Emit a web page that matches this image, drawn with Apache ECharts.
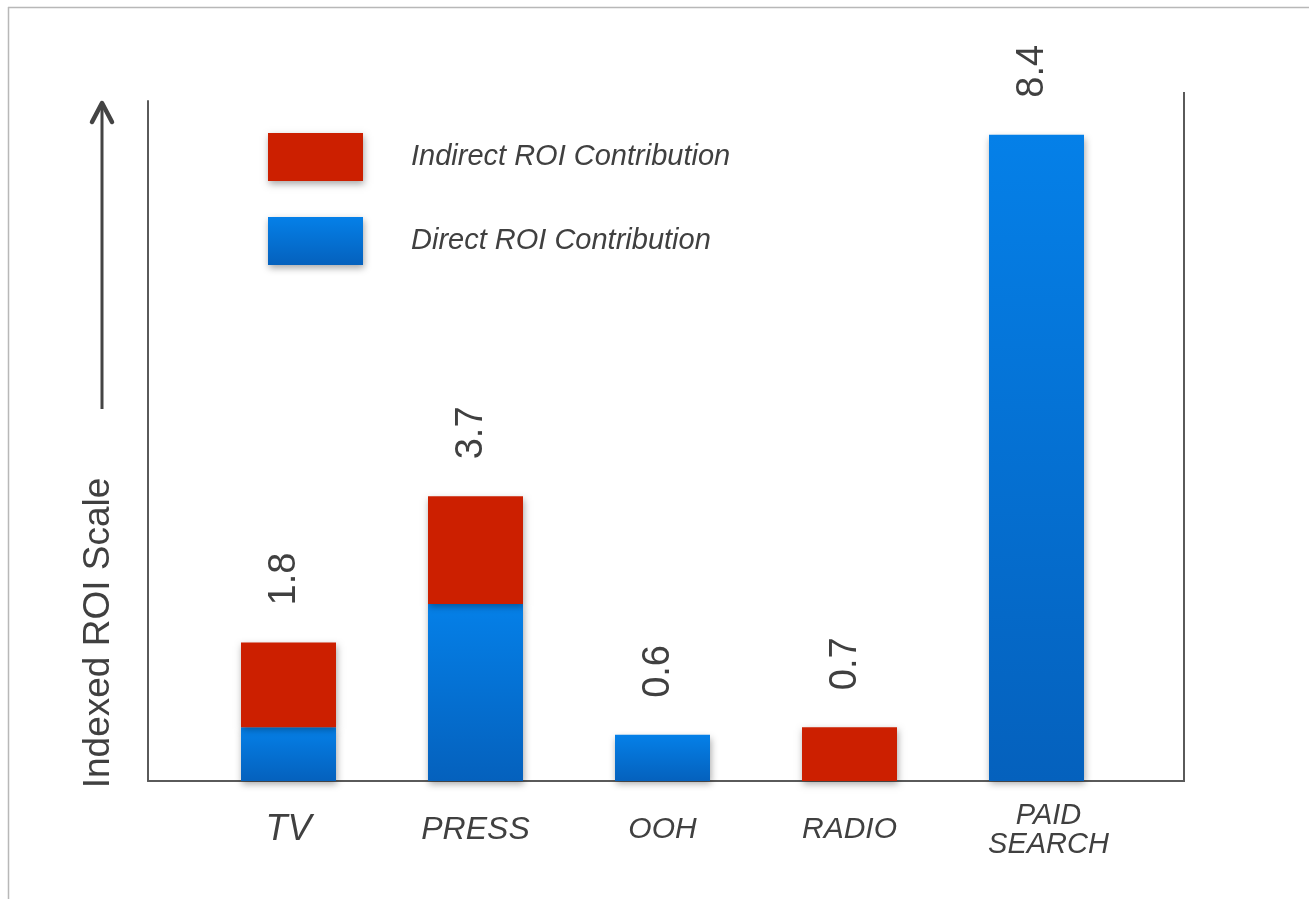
<!DOCTYPE html>
<html>
<head>
<meta charset="utf-8">
<title>Indexed ROI by Channel</title>
<script src="https://cdn.jsdelivr.net/npm/echarts@6/dist/echarts.min.js"></script>
<style>
  html, body { margin: 0; padding: 0; background: #ffffff; }
  #chart { width: 1309px; height: 899px; }
</style>
</head>
<body>
<div id="chart"></div>
<script>
// Channels along the horizontal axis
const channels = ['TV', 'PRESS', 'OOH', 'RADIO', 'PAID\nSEARCH'];
// Direct and indirect ROI contribution per channel (indexed)
const directROI = [0.7, 2.3, 0.6, 0, 8.4];
const indirectROI = [1.1, 1.4, 0, 0.7, 0];
// Total indexed ROI printed above each bar
const totalROI = [1.8, 3.7, 0.6, 0.7, 8.4];
// Series names shown in the legend
const seriesNames = ['Indirect ROI Contribution', 'Direct ROI Contribution'];

const FONT = '"Liberation Sans", Arial, Helvetica, sans-serif';
const TEXT = '#404040';
const AXIS = '#5a5a5a';
const Y_MAX = 8.85;

// Rich-text styles for the category axis labels (one per channel)
const labelRich = {
  tv: { fontSize: 36 },
  press: { fontSize: 32 },
  ooh: { fontSize: 30 },
  radio: { fontSize: 30 },
  ps: { fontSize: 29, lineHeight: 29, padding: [0, 0, 0, 24] }
};

// Builds the rich-text string for a channel name
function channelLabel(name) {
  if (name.indexOf('\n') >= 0) {
    return name.split('\n').map(line => '{ps|' + line + '}').join('\n');
  }
  return '{' + name.toLowerCase() + '|' + name + '}';
}

const blueFill = new echarts.graphic.LinearGradient(0, 0, 0, 1, [
  { offset: 0, color: '#0580e8' },
  { offset: 1, color: '#0561bd' }
]);
const redFill = '#cc1f00';

const barShadow = {
  shadowBlur: 7,
  shadowColor: 'rgba(0,0,0,0.35)',
  shadowOffsetX: 1,
  shadowOffsetY: 3
};

const toBar = v => (v === 0 ? '-' : v);

const chart = echarts.init(document.getElementById('chart'), null, { renderer: 'canvas' });

chart.setOption({
  backgroundColor: '#ffffff',
  animation: false,
  textStyle: { fontFamily: FONT },
  legend: {
    data: seriesNames,
    orient: 'vertical',
    left: 263,
    top: 128,
    itemWidth: 95,
    itemHeight: 48,
    itemGap: 36,
    icon: 'rect',
    selectedMode: false,
    itemStyle: {
      shadowBlur: 7,
      shadowColor: 'rgba(0,0,0,0.35)',
      shadowOffsetX: 1,
      shadowOffsetY: 3
    },
    textStyle: {
      fontFamily: FONT,
      fontSize: 29,
      fontStyle: 'italic',
      color: TEXT,
      padding: [0, 0, 0, 43]
    }
  },
  grid: [
    // plotting area for the bars
    { left: 195, right: 179, top: 100, bottom: 118, containLabel: false, outerBoundsMode: 'none' },
    // frame with the left and bottom axis lines
    { left: 148, right: 125, top: 101, bottom: 118, containLabel: false, outerBoundsMode: 'none' }
  ],
  xAxis: [
    {
      type: 'category',
      gridIndex: 0,
      data: channels,
      axisLine: { show: false },
      axisTick: { show: false },
      axisLabel: {
        margin: 49,
        verticalAlign: 'middle',
        fontFamily: FONT,
        fontStyle: 'italic',
        color: TEXT,
        interval: 0,
        formatter: channelLabel,
        rich: labelRich
      }
    },
    {
      type: 'value',
      gridIndex: 1,
      min: 0,
      max: 1,
      axisLine: { show: true, lineStyle: { color: AXIS, width: 2 } },
      axisTick: { show: false },
      axisLabel: { show: false },
      splitLine: { show: false }
    }
  ],
  yAxis: [
    {
      type: 'value',
      gridIndex: 0,
      min: 0,
      max: Y_MAX,
      axisLine: { show: false },
      axisTick: { show: false },
      axisLabel: { show: false },
      splitLine: { show: false }
    },
    {
      type: 'value',
      gridIndex: 1,
      min: 0,
      max: Y_MAX,
      axisLine: { show: true, lineStyle: { color: AXIS, width: 2 } },
      axisTick: { show: false },
      axisLabel: { show: false },
      splitLine: { show: false }
    }
  ],
  series: [
    {
      // invisible totals carrying the value labels
      name: 'Total',
      type: 'bar',
      xAxisIndex: 0,
      yAxisIndex: 0,
      barWidth: 95,
      barGap: '-100%',
      data: totalROI,
      itemStyle: { color: 'rgba(0,0,0,0)' },
      label: {
        show: true,
        position: 'top',
        distance: 37,
        rotate: 90,
        align: 'left',
        verticalAlign: 'middle',
        offset: [0, -4],
        fontFamily: FONT,
        fontSize: 38,
        color: TEXT
      },
      silent: true,
      z: 1
    },
    {
      name: seriesNames[1],
      type: 'bar',
      stack: 'roi',
      xAxisIndex: 0,
      yAxisIndex: 0,
      barWidth: 95,
      data: directROI.map(toBar),
      itemStyle: Object.assign({ color: blueFill }, barShadow),
      z: 2
    },
    {
      name: seriesNames[0],
      type: 'bar',
      stack: 'roi',
      xAxisIndex: 0,
      yAxisIndex: 0,
      barWidth: 95,
      data: indirectROI.map(toBar),
      itemStyle: Object.assign({ color: redFill }, barShadow),
      z: 3
    }
  ],
  graphic: [
    // page frame (top and left edges)
    { type: 'line', shape: { x1: 8, y1: 7.5, x2: 1309, y2: 7.5 }, style: { stroke: '#b8b8b8', lineWidth: 1.5 }, silent: true },
    { type: 'line', shape: { x1: 8.5, y1: 7, x2: 8.5, y2: 899 }, style: { stroke: '#b8b8b8', lineWidth: 1.5 }, silent: true },
    // right edge of the plot frame
    { type: 'line', shape: { x1: 1184, y1: 92, x2: 1184, y2: 782 }, style: { stroke: AXIS, lineWidth: 2 }, silent: true },
    // upward arrow beside the axis title
    { type: 'line', shape: { x1: 102, y1: 409, x2: 102, y2: 103 }, style: { stroke: '#444444', lineWidth: 3 }, silent: true },
    { type: 'polyline', shape: { points: [[92, 122], [102, 103], [112, 122]] }, style: { stroke: '#444444', lineWidth: 4.5, lineCap: 'round', lineJoin: 'round', fill: null }, silent: true },
    // vertical axis title
    {
      type: 'text',
      x: 99,
      y: 633,
      rotation: Math.PI / 2,
      style: {
        text: 'Indexed ROI Scale',
        font: '37px ' + FONT,
        fill: TEXT,
        align: 'center',
        verticalAlign: 'middle'
      },
      silent: true
    }
  ]
});
</script>
</body>
</html>
